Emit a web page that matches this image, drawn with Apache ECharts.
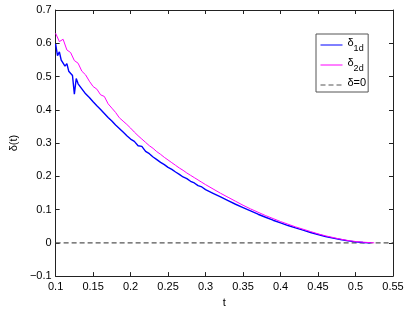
<!DOCTYPE html>
<html><head><meta charset="utf-8">
<script src="https://cdn.jsdelivr.net/npm/echarts@6/dist/echarts.min.js"></script>
<style>html,body{margin:0;padding:0;background:#fff}#c{width:407px;height:313px}</style>
</head><body><div id="c"></div>
<script>
const blueT = [0.1,0.1025,0.105,0.1075,0.11,0.1125,0.115,0.1175,0.12,0.1225,0.125,0.1275,0.13,0.1325,0.135,0.1375,0.14,0.1425,0.145,0.1475,0.15,0.1525,0.155,0.1575,0.16,0.1625,0.165,0.1675,0.17,0.1725,0.175,0.1775,0.18,0.1825,0.185,0.1875,0.19,0.1925,0.195,0.1975,0.2,
  0.205,0.21,0.215,0.22,0.225,0.23,0.235,0.24,0.245,0.25,0.255,0.26,0.265,0.27,0.275,0.28,0.285,0.29,0.295,0.3,
  0.31,0.32,0.33,0.34,0.35,0.36,0.37,0.38,0.39,0.4,0.41,0.42,0.43,0.44,0.45,0.46,0.47,0.48,0.49,0.5,0.51,0.52];
const blueV = [0.598,0.563,0.574,0.549,0.552,0.531,0.539,0.516,0.520,0.503,0.447,0.494,0.478,0.483,0.463,0.466,0.448,0.453,0.437,0.440,0.424,0.429,0.412,0.416,0.401,0.404,0.389,0.393,0.377,0.381,0.366,0.369,0.354,0.357,0.344,0.346,0.333,0.336,0.322,0.324,0.312,
  0.305,0.292,0.290,0.275,0.268,0.258,0.250,0.242,0.235,0.227,0.221,0.213,0.206,0.198,0.193,0.185,0.180,0.172,0.168,0.160,
  0.149,0.138,0.127,0.116,0.106,0.096,0.086,0.077,0.068,0.060,0.052,0.045,0.038,0.031,0.025,0.019,0.014,0.010,0.006,0.003,0.001,0.000];
const magT = [0.1,0.105,0.11,0.115,0.12,0.125,0.13,0.135,0.14,0.145,0.15,0.155,0.16,0.165,0.17,0.175,0.18,0.185,0.19,0.195,0.2,
  0.205,0.21,0.215,0.22,0.225,0.23,0.235,0.24,0.245,0.25,0.255,0.26,0.265,0.27,0.275,0.28,0.285,0.29,0.295,0.3,
  0.31,0.32,0.33,0.34,0.35,0.36,0.37,0.38,0.39,0.4,0.41,0.42,0.43,0.44,0.45,0.46,0.47,0.48,0.49,0.5,0.51,0.52,0.525];
const magV = [0.630,0.605,0.612,0.580,0.572,0.548,0.540,0.516,0.505,0.486,0.470,0.462,0.445,0.440,0.418,0.405,0.392,0.376,0.366,0.356,0.345,
  0.333,0.322,0.312,0.302,0.292,0.284,0.274,0.266,0.257,0.249,0.241,0.233,0.225,0.218,0.210,0.203,0.196,0.189,0.182,0.175,
  0.162,0.149,0.137,0.125,0.113,0.102,0.092,0.082,0.073,0.064,0.056,0.048,0.041,0.034,0.027,0.021,0.016,0.011,0.007,0.004,0.002,0.0005,0];
const zeroT = [0.1,0.55];
const zeroV = [0,0];
const seriesNames = ['δ1d','δ2d','δ=0'];
const xLabel = 't', yLabel = 'δ(t)';

const pairs = (a,b)=>a.map((t,i)=>[t,b[i]]);
const font = 'Liberation Sans, Arial, Helvetica, sans-serif';
const axisCol = '#222';
const chart = echarts.init(document.getElementById('c'));
const fmt = v => { let s = String(+v.toFixed(2)); return s.replace('-', '\u2212'); };
const baseAxis = {
  type:'value',
  axisLine:{show:true,onZero:false,lineStyle:{color:axisCol,width:1}},
  axisTick:{show:true,inside:true,length:4,lineStyle:{color:axisCol}},
  splitLine:{show:false},
};
chart.setOption({
  animation:false,
  grid:{left:43,right:14,top:10,bottom:30},
  legend:{
    orient:'vertical', left:316, top:34,
    backgroundColor:'#fff', borderColor:'#555', borderWidth:1,
    padding:[3,2,3,4], itemWidth:22, itemHeight:10, itemGap:4,
    itemStyle:{opacity:0}, lineStyle:{width:1},
    formatter: n => n==='δ=0' ? '{a|δ=0}' : '{a|δ}{s|'+n.slice(1)+'}',
    textStyle:{fontFamily:font,color:'#000',
      rich:{a:{fontFamily:font,fontSize:11,verticalAlign:'top',lineHeight:16,color:'#000'},
            s:{fontFamily:font,fontSize:9,verticalAlign:'bottom',lineHeight:16,color:'#000'}}},
    data:seriesNames
  },
  xAxis:[
    Object.assign({},baseAxis,{position:'bottom',min:0.1,max:0.55,interval:0.05,
      name:xLabel,nameLocation:'middle',nameGap:16,nameTextStyle:{fontFamily:font,fontSize:11,color:'#000'},
      axisLabel:{fontFamily:font,fontSize:11,color:'#000',margin:5,formatter:fmt}}),
    Object.assign({},baseAxis,{position:'top',min:0.1,max:0.55,interval:0.05,axisLabel:{show:false}})
  ],
  yAxis:[
    Object.assign({},baseAxis,{position:'left',min:-0.1,max:0.7,interval:0.1,
      name:yLabel,nameLocation:'middle',nameGap:25,nameRotate:90,nameTextStyle:{fontFamily:font,fontSize:11,color:'#000'},
      axisLabel:{fontFamily:font,fontSize:11,color:'#000',margin:4,formatter:fmt}}),
    Object.assign({},baseAxis,{position:'right',min:-0.1,max:0.7,interval:0.1,axisLabel:{show:false}})
  ],
  series:[
    {name:seriesNames[0],type:'line',data:pairs(blueT,blueV),showSymbol:false,symbol:'none',
      lineStyle:{color:'#0000ff',width:1.4},itemStyle:{color:'#0000ff'},z:3},
    {name:seriesNames[1],type:'line',data:pairs(magT,magV),showSymbol:false,symbol:'none',
      lineStyle:{color:'#ff00ff',width:1},itemStyle:{color:'#ff00ff'},z:4},
    {name:seriesNames[2],type:'line',data:pairs(zeroT,zeroV),showSymbol:false,symbol:'none',
      lineStyle:{color:'#555',width:1.3,type:[5,3]},itemStyle:{color:'#555'},z:2}
  ]
});
</script></body></html>
